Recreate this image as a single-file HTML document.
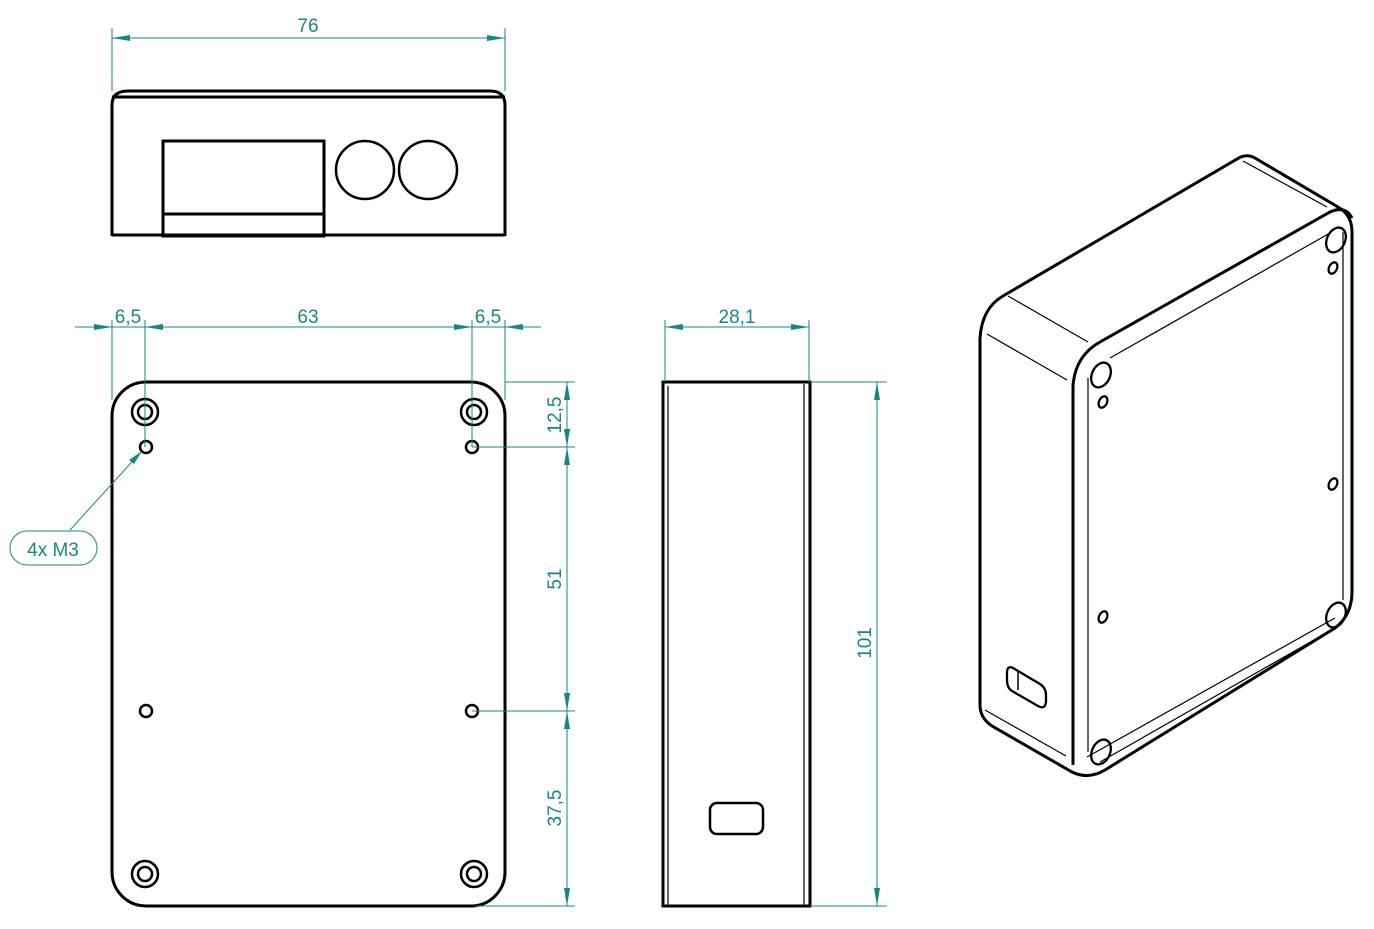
<!DOCTYPE html>
<html><head><meta charset="utf-8"><style>
html,body{margin:0;padding:0;background:#fff}
svg{display:block}
text{font-family:"Liberation Sans",sans-serif;fill:#1a8585;font-size:19px}
.d{stroke:#1a8585;stroke-width:1;fill:none}
.k{stroke:#000;stroke-width:3;fill:none}
.t{stroke:#000;stroke-width:1.2;fill:none}
.a{fill:#1a8585}
</style></head><body>
<svg width="1374" height="929" viewBox="0 0 1374 929" xmlns="http://www.w3.org/2000/svg">
<!-- TOP VIEW -->
<path class="k" d="M112,236 L112,105 Q112,91 128,91 L490,91 Q505,91 505,105 L505,236"/>
<line class="k" x1="112" y1="97" x2="505" y2="97"/>
<line class="k" x1="112" y1="235" x2="505" y2="235"/>
<rect class="k" x="163" y="141" width="161" height="95"/>
<line class="k" x1="163" y1="214" x2="324" y2="214"/>
<circle cx="365" cy="170" r="29" stroke="#000" stroke-width="2.5" fill="none"/>
<circle cx="428" cy="170" r="29" stroke="#000" stroke-width="2.5" fill="none"/>
<line class="d" x1="112" y1="28" x2="112" y2="91"/>
<line class="d" x1="505" y1="28" x2="505" y2="91"/>
<line class="d" x1="112" y1="38" x2="505" y2="38"/>
<path class="a" d="M112,38 l18,-3 v6z M505,38 l-18,-3 v6z"/>
<text x="308" y="32" text-anchor="middle">76</text>

<!-- FRONT VIEW -->
<rect class="k" x="112" y="382" width="393" height="524" rx="34"/>
<g stroke="#000" stroke-width="2.5" fill="none">
<circle cx="145" cy="412" r="13"/><circle cx="145" cy="412" r="7"/>
<circle cx="474" cy="412" r="13"/><circle cx="474" cy="412" r="7"/>
<circle cx="145" cy="874" r="13"/><circle cx="145" cy="874" r="7"/>
<circle cx="474" cy="874" r="13"/><circle cx="474" cy="874" r="7"/>
<circle cx="146" cy="447" r="6"/><circle cx="472" cy="447" r="6"/>
<circle cx="146" cy="711" r="6"/><circle cx="472" cy="711" r="6"/>
</g>
<line class="d" x1="112" y1="320" x2="112" y2="400"/>
<line class="d" x1="145" y1="320" x2="145" y2="447"/>
<line class="d" x1="472" y1="320" x2="472" y2="447"/>
<line class="d" x1="505" y1="320" x2="505" y2="400"/>
<line class="d" x1="75" y1="327" x2="541" y2="327"/>
<path class="a" d="M112,327 l-18,-3 v6z M145,327 l18,-3 v6z M472,327 l-18,-3 v6z M505,327 l18,-3 v6z"/>
<text x="128" y="323" text-anchor="middle">6,5</text>
<text x="308" y="323" text-anchor="middle">63</text>
<text x="488" y="323" text-anchor="middle">6,5</text>
<line class="d" x1="505" y1="382" x2="575" y2="382"/>
<line class="d" x1="472" y1="447" x2="575" y2="447"/>
<line class="d" x1="472" y1="711" x2="575" y2="711"/>
<line class="d" x1="475" y1="906" x2="575" y2="906"/>
<line class="d" x1="567" y1="382" x2="567" y2="906"/>
<path class="a" d="M567,382 l-3,18 h6z M567,447 l-3,-18 h6z M567,447 l-3,18 h6z M567,711 l-3,-18 h6z M567,711 l-3,18 h6z M567,906 l-3,-18 h6z"/>
<text transform="translate(561,415) rotate(-90)" text-anchor="middle">12,5</text>
<text transform="translate(561,579) rotate(-90)" text-anchor="middle">51</text>
<text transform="translate(561,808) rotate(-90)" text-anchor="middle">37,5</text>
<line class="d" x1="70" y1="530" x2="140" y2="453"/>
<path class="a" d="M142,451 l-13,9 l5,4z"/>
<rect x="10" y="531" width="87" height="34" rx="17" class="d"/>
<text x="53" y="556" text-anchor="middle">4x M3</text>

<!-- SIDE VIEW -->
<rect class="k" x="663" y="382" width="147" height="524"/>
<line class="t" x1="668" y1="386" x2="668" y2="906" stroke-width="2"/>
<line class="t" x1="804" y1="384" x2="804" y2="906" stroke-width="2"/>
<rect x="710" y="803" width="53" height="31" rx="7" stroke="#000" stroke-width="2.5" fill="none"/>
<line class="d" x1="665" y1="320" x2="665" y2="382"/>
<line class="d" x1="809" y1="320" x2="809" y2="382"/>
<line class="d" x1="665" y1="327" x2="809" y2="327"/>
<path class="a" d="M665,327 l18,-3 v6z M809,327 l-18,-3 v6z"/>
<text x="737" y="323" text-anchor="middle">28,1</text>
<line class="d" x1="810" y1="382" x2="887" y2="382"/>
<line class="d" x1="810" y1="906" x2="887" y2="906"/>
<line class="d" x1="877" y1="382" x2="877" y2="906"/>
<path class="a" d="M877,382 l-3,18 h6z M877,906 l-3,-18 h6z"/>
<text transform="translate(871,643) rotate(-90)" text-anchor="middle">101</text>

<!-- ISO VIEW -->
<path class="k" stroke-width="2.8" d="M1003,296 L1237,159 Q1246,153 1255,158 L1338,207 Q1352,215 1352,232 L1352,592 Q1352,615 1335,628 L1105,770 Q1088,780 1072,772 L992,726 Q980,718 980,705 L980,338 Q982,308 1003,296 Z"/>
<path class="k" stroke-width="2.8" d="M1073,765 L1073,386 Q1075,356 1100,342 L1330,212 Q1345,205 1352,218"/>
<line class="t" x1="1088" y1="378" x2="1088" y2="752"/>
<line class="t" x1="1343" y1="232" x2="1343" y2="600"/>
<line class="t" x1="1110" y1="358" x2="1330" y2="233"/>
<line class="t" x1="1100" y1="762" x2="1335" y2="628" stroke-width="2"/>
<line class="t" x1="1087" y1="757" x2="1335" y2="618" stroke-width="1"/>
<line class="t" x1="1008" y1="296" x2="1088" y2="342"/>
<line class="t" x1="987" y1="334" x2="1067" y2="380"/>
<line class="t" x1="1243" y1="161" x2="1327" y2="207"/>
<line class="t" x1="985" y1="710" x2="1066" y2="756"/>
<g stroke="#000" stroke-width="2.3" fill="none">
<ellipse cx="1101" cy="375" rx="9" ry="13" transform="rotate(25 1101 375)"/>
<ellipse cx="1336" cy="240" rx="9" ry="13" transform="rotate(25 1336 240)"/>
<ellipse cx="1101" cy="752" rx="9" ry="13" transform="rotate(25 1101 752)"/>
<ellipse cx="1336" cy="615" rx="9" ry="13" transform="rotate(25 1336 615)"/>
<ellipse cx="1103" cy="402" rx="4" ry="6" transform="rotate(25 1103 402)"/>
<ellipse cx="1333" cy="268" rx="4" ry="6" transform="rotate(25 1333 268)"/>
<ellipse cx="1103" cy="617" rx="4" ry="6" transform="rotate(25 1103 617)"/>
<ellipse cx="1333" cy="484" rx="4" ry="6" transform="rotate(25 1333 484)"/>
<path d="M1013,668 L1040,684 Q1046,688 1046,695 L1046,702 Q1045,710 1038,706 L1012,691 Q1007,688 1007,680 L1007,673 Q1007,665 1013,668 Z"/>
<path d="M1018,672 L1018,690" stroke-width="1.5"/>
</g>
</svg>
</body></html>
